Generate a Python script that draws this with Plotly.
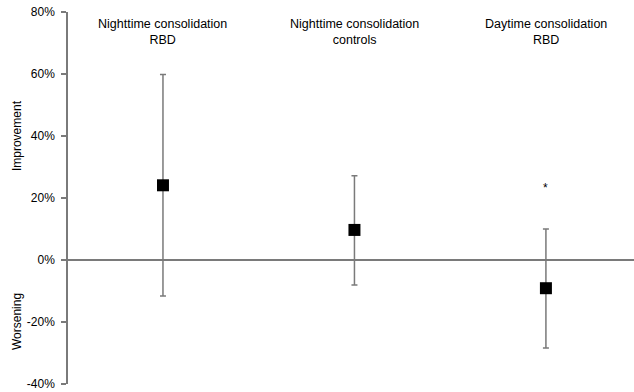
import plotly.graph_objects as go

categories = ["Nighttime consolidation<br>RBD", "Nighttime consolidation<br>controls", "Daytime consolidation<br>RBD"]
means = [24.1, 9.7, -9.1]
upper = [59.8, 27.2, 10.0]
lower = [-11.6, -8.1, -28.4]
sig_marks = ["", "", "*"]
sig_y = [None, None, 23.3]

xs = list(range(len(categories)))
err_plus = [u - m for u, m in zip(upper, means)]
err_minus = [m - l for m, l in zip(means, lower)]

fig = go.Figure()
fig.add_trace(go.Scatter(
    x=xs, y=means, mode="markers",
    marker=dict(symbol="square", size=12, color="black"),
    error_y=dict(type="data", symmetric=False, array=err_plus, arrayminus=err_minus,
                 color="#7a7a7a", thickness=1.5, width=3),
    showlegend=False,
))

for x, c in zip(xs, categories):
    fig.add_annotation(x=x, y=80, yref="y", text=c, showarrow=False, yanchor="top",
                       yshift=-3, font=dict(size=12.5, color="black"))
for x, s, sy in zip(xs, sig_marks, sig_y):
    if s:
        fig.add_annotation(x=x, y=sy, text=s, showarrow=False, font=dict(size=12, color="black"))

fig.add_annotation(xref="paper", yref="y", x=-0.09, y=40, text="Improvement", textangle=-90,
                   showarrow=False, xanchor="center", font=dict(size=12, color="black"))
fig.add_annotation(xref="paper", yref="y", x=-0.09, y=-20, text="Worsening", textangle=-90,
                   showarrow=False, xanchor="center", font=dict(size=12, color="black"))

fig.update_layout(
    width=634, height=392,
    margin=dict(l=68, r=0, t=12, b=8),
    plot_bgcolor="white", paper_bgcolor="white",
    font=dict(family="Liberation Sans, Arial, sans-serif", size=12, color="black"),
    xaxis=dict(range=[-0.496, 2.46], showticklabels=False, showgrid=False, zeroline=False,
               showline=False, ticks=""),
    yaxis=dict(range=[-40, 80], tickvals=[-40, -20, 0, 20, 40, 60, 80],
               ticktext=["-40%", "-20%", "0%", "20%", "40%", "60%", "80%"],
               showgrid=False, zeroline=True, zerolinecolor="#7a7a7a", zerolinewidth=1.5,
               showline=True, linecolor="#7a7a7a", linewidth=1.5,
               ticks="outside", ticklen=5, tickcolor="#7a7a7a", tickwidth=1.5,
               ticklabelstandoff=4, tickfont=dict(size=12, color="black")),
)

fig.write_html("out.html", config={"displayModeBar": False},
               post_script="document.body.style.margin='0';document.body.style.overflow='hidden';")
